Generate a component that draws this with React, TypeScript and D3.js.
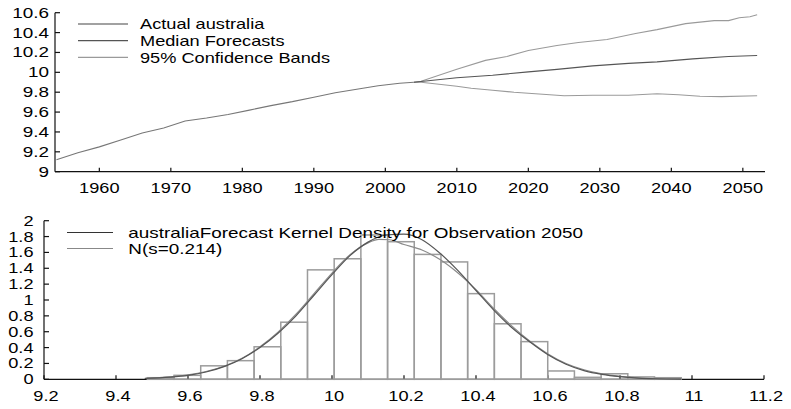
import React from "react";
import * as d3 from "d3";

// ---- Top panel: actual series, median forecast and 95% bands ----
const actualYears = [1954, 1957, 1960, 1963, 1966, 1969, 1972, 1975, 1978, 1981, 1984, 1987, 1990, 1993, 1996, 1999, 2002, 2004];
const actualValues = [9.12, 9.19, 9.25, 9.32, 9.39, 9.44, 9.51, 9.54, 9.575, 9.62, 9.665, 9.705, 9.75, 9.795, 9.83, 9.865, 9.89, 9.9];

const medianYears = [2004, 2010, 2015, 2020, 2024, 2029, 2034, 2038, 2043, 2048, 2052];
const medianValues = [9.9, 9.945, 9.97, 10.005, 10.03, 10.065, 10.09, 10.105, 10.135, 10.16, 10.17];

const upperYears = [2004, 2005, 2010, 2014, 2017, 2020, 2024, 2027, 2031, 2035, 2038, 2042, 2046, 2048, 2049.5, 2051, 2052];
const upperValues = [9.9, 9.91, 10.03, 10.12, 10.16, 10.22, 10.27, 10.3, 10.33, 10.39, 10.43, 10.49, 10.52, 10.52, 10.55, 10.56, 10.58];

const lowerYears = [2004, 2005, 2010, 2012, 2015, 2018, 2022, 2025, 2029, 2034, 2038, 2041, 2044, 2047, 2052];
const lowerValues = [9.9, 9.9, 9.86, 9.84, 9.82, 9.8, 9.78, 9.765, 9.77, 9.77, 9.785, 9.775, 9.76, 9.755, 9.765];

const topYTicks = [9, 9.2, 9.4, 9.6, 9.8, 10, 10.2, 10.4, 10.6];
const topXTicks = [1960, 1970, 1980, 1990, 2000, 2010, 2020, 2030, 2040, 2050];
const topLegend = ["Actual australia", "Median Forecasts", "95% Confidence Bands"];

// ---- Bottom panel: histogram of 2050 forecasts with density curves ----
const binStart = 9.487;
const binWidth = 0.07415;
const binDensity = [0.02, 0.05, 0.17, 0.235, 0.41, 0.72, 1.38, 1.52, 1.82, 1.735, 1.575, 1.48, 1.08, 0.7, 0.475, 0.105, 0.025, 0.07, 0.03, 0.02];

const densityX = [9.48, 9.55, 9.6, 9.65, 9.7, 9.75, 9.8, 9.85, 9.9, 9.95, 10.0, 10.05, 10.1, 10.15, 10.2, 10.25, 10.3, 10.35, 10.4, 10.45, 10.5, 10.55, 10.6, 10.65, 10.7, 10.75, 10.8, 10.85, 10.9, 10.97];
const kernelValues = [0.01, 0.027, 0.05, 0.092, 0.16, 0.26, 0.4, 0.58, 0.8, 1.06, 1.32, 1.56, 1.73, 1.82, 1.83, 1.76, 1.59, 1.37, 1.12, 0.87, 0.65, 0.47, 0.31, 0.19, 0.11, 0.062, 0.033, 0.016, 0.007, 0.002];
const normalX = [9.48, 9.55, 9.6, 9.65, 9.7, 9.75, 9.8, 9.85, 9.9, 9.95, 10.0, 10.05, 10.1, 10.13, 10.16, 10.2, 10.25, 10.3, 10.35, 10.4, 10.45, 10.5, 10.55, 10.6, 10.65, 10.7, 10.75, 10.8, 10.85, 10.9, 10.97];
const normalValues = [0.012, 0.03, 0.055, 0.098, 0.165, 0.265, 0.41, 0.595, 0.82, 1.08, 1.34, 1.57, 1.72, 1.765, 1.76, 1.7, 1.63, 1.51, 1.34, 1.13, 0.89, 0.67, 0.48, 0.32, 0.2, 0.12, 0.068, 0.037, 0.018, 0.008, 0.002];

const bottomYTicks = [0, 0.2, 0.4, 0.6, 0.8, 1, 1.2, 1.4, 1.6, 1.8, 2];
const bottomXTicks = [9.2, 9.4, 9.6, 9.8, 10, 10.2, 10.4, 10.6, 10.8, 11, 11.2];
const bottomLegend = ["australiaForecast Kernel Density for Observation 2050", "N(s=0.214)"];

const FONT = "'Liberation Sans', Arial, Helvetica, sans-serif";

function SText({ x, y, sx = 1.3, anchor = "start", size = 14, children }: any) {
  return (
    <text
      transform={`translate(${x},${y}) scale(${sx},1)`}
      textAnchor={anchor}
      fontSize={size}
      fontFamily={FONT}
      fill="#000"
    >
      {children}
    </text>
  );
}

const fmt = (v: number) => String(+v.toFixed(1));

export default function App() {
  const W = 791;
  const H = 409;

  // top scales
  const tx = d3.scaleLinear().domain([1953.8, 2053.1]).range([55, 765]);
  const ty = d3.scaleLinear().domain([9, 10.6]).range([171.7, 12.7]);
  const tLine = (xs: number[], ys: number[]) =>
    d3.line<number>().x((_, i) => tx(xs[i])).y((v) => ty(v))(ys) || "";

  // bottom scales
  const bx = d3.scaleLinear().domain([9.2, 11.2]).range([44, 764]);
  const by = d3.scaleLinear().domain([0, 2]).range([379.3, 220.7]);
  const bLine = (xs: number[], ys: number[]) =>
    d3.line<number>().x((_, i) => bx(xs[i])).y((v) => by(v)).curve(d3.curveMonotoneX)(ys) || "";

  const topColors = ["#444", "#555", "#9a9a9a"];
  const actualColor = "#777";

  return (
    <svg width={W} height={H} style={{ position: "absolute", left: 0, top: 0, background: "#fff" }}>
      <rect width={W} height={H} fill="#fff" />

      {/* ===== Top panel ===== */}
      <g stroke="#111" strokeWidth={1.2} fill="none">
        <line x1={tx.range()[0]} x2={tx.range()[1]} y1={ty(9)} y2={ty(9)} />
        <line x1={tx.range()[0]} x2={tx.range()[0]} y1={ty(9)} y2={ty(10.6)} />
        {topYTicks.map((t) => (
          <line key={t} x1={tx.range()[0]} x2={tx.range()[0] + 5} y1={ty(t)} y2={ty(t)} />
        ))}
        {topXTicks.map((t) => (
          <line key={t} x1={tx(t)} x2={tx(t)} y1={ty(9)} y2={ty(9) - 4} />
        ))}
      </g>
      {topYTicks.map((t) => (
        <SText key={t} x={49} y={ty(t) + 5} anchor="end" sx={1.35}>
          {fmt(t)}
        </SText>
      ))}
      {topXTicks.map((t) => (
        <SText key={t} x={tx(t)} y={193.3} anchor="middle">
          {t}
        </SText>
      ))}

      <path d={tLine(actualYears, actualValues)} fill="none" stroke={actualColor} strokeWidth={1.1} />
      <path d={tLine(upperYears, upperValues)} fill="none" stroke={topColors[2]} strokeWidth={1.1} />
      <path d={tLine(lowerYears, lowerValues)} fill="none" stroke={topColors[2]} strokeWidth={1.1} />
      <path d={tLine(medianYears, medianValues)} fill="none" stroke={topColors[1]} strokeWidth={1.1} />

      {topLegend.map((name, i) => (
        <g key={name}>
          <line x1={78} x2={128} y1={24 + i * 16.7} y2={24 + i * 16.7} stroke={topColors[i]} strokeWidth={1.2} />
          <SText x={140} y={28.5 + i * 17.2}>
            {name}
          </SText>
        </g>
      ))}

      {/* ===== Bottom panel ===== */}
      <g stroke="#111" strokeWidth={1.2} fill="none">
        <line x1={bx(9.2)} x2={bx(11.2)} y1={by(0)} y2={by(0)} />
        <line x1={bx(9.2)} x2={bx(9.2)} y1={by(0)} y2={by(2)} />
        {bottomYTicks.map((t) => (
          <line key={t} x1={bx(9.2)} x2={bx(9.2) + 5} y1={by(t)} y2={by(t)} />
        ))}
        {bottomXTicks.map((t) => (
          <line key={t} x1={bx(t)} x2={bx(t)} y1={by(0)} y2={by(0) - 4} />
        ))}
      </g>
      {bottomYTicks.map((t) => (
        <SText key={t} x={33.5} y={by(t) + 5} anchor="end" sx={1.3}>
          {fmt(t)}
        </SText>
      ))}
      {bottomXTicks.map((t) => (
        <SText key={t} x={bx(t) + 2} y={400.5} anchor="middle">
          {fmt(t)}
        </SText>
      ))}

      {binDensity.map((v, i) => {
        const x0 = binStart + i * binWidth;
        const x1 = x0 + binWidth;
        return (
          <rect
            key={i}
            x={bx(x0)}
            y={by(v)}
            width={bx(x1) - bx(x0)}
            height={by(0) - by(v)}
            fill="none"
            stroke="#9c9c9c"
            strokeWidth={1.5}
          />
        );
      })}

      <path d={bLine(normalX, normalValues)} fill="none" stroke="#8a8a8a" strokeWidth={1.2} />
      <path d={bLine(densityX, kernelValues)} fill="none" stroke="#555" strokeWidth={1.2} />

      {bottomLegend.map((name, i) => (
        <g key={name}>
          <line
            x1={67}
            x2={113}
            y1={232.5 + i * 16}
            y2={232.5 + i * 16}
            stroke={i === 0 ? "#333" : "#888"}
            strokeWidth={1.2}
          />
          <SText x={128.3} y={237.5 + i * 16} sx={1.35}>
            {name}
          </SText>
        </g>
      ))}
    </svg>
  );
}
